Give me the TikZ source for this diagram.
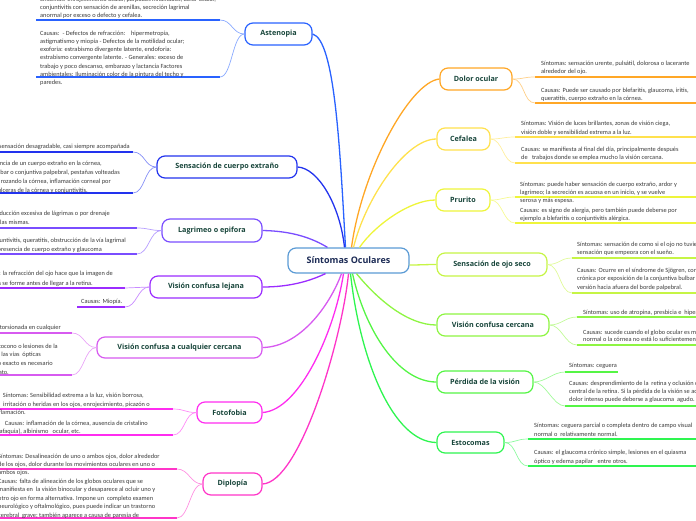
\documentclass[tikz,border=0pt]{standalone}
\usepackage{fontspec}
\setmainfont{Carlito}
\newfontfamily\hdfont{Open Sans}
\definecolor{txt}{HTML}{3A3A3A}
\definecolor{hd}{HTML}{17453A}
\definecolor{cnv}{HTML}{1C2B55}
\definecolor{cen}{HTML}{5B9BD5}
\definecolor{cast}{HTML}{2962FF}
\definecolor{csce}{HTML}{2233EE}
\definecolor{clag}{HTML}{7A4DFF}
\definecolor{cvcl}{HTML}{9B2CFF}
\definecolor{cvcc}{HTML}{D75AF0}
\definecolor{cfot}{HTML}{FF2CF0}
\definecolor{cdip}{HTML}{FF35C8}
\definecolor{cdol}{HTML}{FFA726}
\definecolor{ccef}{HTML}{FFE14D}
\definecolor{cpru}{HTML}{EEF53A}
\definecolor{cojo}{HTML}{C6F545}
\definecolor{cvcz}{HTML}{8EF542}
\definecolor{cper}{HTML}{55F545}
\definecolor{cest}{HTML}{2EF550}
\tikzset{
  topic/.style={draw=#1, line width=1.2pt, rounded corners=8pt, inner sep=0pt,
    font=\hdfont\bfseries\fontsize{7.2}{8}\selectfont, text=hd, fill=white},
  lw/.style={anchor=base west, inner sep=0pt, font=\fontsize{6.35}{8}\selectfont, text=txt},
  le/.style={anchor=base east, inner sep=0pt, font=\fontsize{6.35}{8}\selectfont, text=txt},
  ul/.style={draw=#1, line width=1.8pt},
  br/.style={draw=#1, line width=1.3pt},
  lf/.style={draw=#1!55, line width=0.7pt},
}
\begin{document}
\begin{tikzpicture}[x=1pt,y=-1pt]
\useasboundingbox (0,0) rectangle (696,520);
\clip (0,0) rectangle (696,520);
% ---------- topic nodes
\node[topic=cen, minimum width=121pt, minimum height=25pt, font=\hdfont\bfseries\fontsize{9}{10}\selectfont, text=cnv] (c) at (348.5,260.5) {Síntomas Oculares};
\node[topic=cast, minimum width=67pt, minimum height=22pt] (ast) at (278.5,34) {Astenopia};
\node[topic=csce, minimum width=140pt, minimum height=22pt] (sce) at (227,167) {Sensación de cuerpo extraño};
\node[topic=clag, minimum width=100pt, minimum height=23pt] (lag) at (212,230.5) {Lagrimeo o epifora};
\node[topic=cvcl, minimum width=112pt, minimum height=22pt] (vcl) at (206,287) {Visión confusa lejana};
\node[topic=cvcc, minimum width=165pt, minimum height=21pt] (vcc) at (179.5,347.5) {Visión confusa a cualquier cercana};
\node[topic=cfot, minimum width=65pt, minimum height=21pt] (fot) at (229.5,412.5) {Fotofobia};
\node[topic=cdip, minimum width=59pt, minimum height=22pt] (dip) at (232.5,484) {Diplopía};
\node[topic=cdol, minimum width=72pt, minimum height=22pt] (dol) at (476,79) {Dolor ocular};
\node[topic=ccef, minimum width=53pt, minimum height=22pt] (cef) at (463.5,139) {Cefalea};
\node[topic=cpru, minimum width=54pt, minimum height=22pt] (pru) at (463,200) {Prurito};
\node[topic=cojo, minimum width=110pt, minimum height=23pt] (ojo) at (492,264.5) {Sensación de ojo seco};
\node[topic=cvcz, minimum width=112pt, minimum height=22pt] (vcz) at (493,325) {Visión confusa cercana};
\node[topic=cper, minimum width=96pt, minimum height=22pt] (per) at (485,382) {Pérdida de la visión};
\node[topic=cest, minimum width=67pt, minimum height=21pt] (est) at (470.5,442.5) {Estocomas};
% ---------- main branches
\draw[br=cast] (ast.east) .. controls (335,40) and (340,150) .. ([xshift=-3pt]c.north);
\draw[br=csce] (sce.east) .. controls (318,168) and (340,205) .. ([xshift=-4pt]c.north);
\draw[br=clag] (lag.east) .. controls (292,231) and (312,238) .. ([xshift=-21pt]c.north);
\draw[br=cvcl] (vcl.east) .. controls (292,287) and (312,280) .. ([xshift=-23pt]c.south);
\draw[br=cvcc] (vcc.east) .. controls (300,347) and (330,305) .. ([xshift=-7pt]c.south);
\draw[br=cfot] (fot.east) .. controls (300,410) and (335,330) .. ([xshift=-5pt]c.south);
\draw[br=cdip] (dip.east) .. controls (300,482) and (342,340) .. ([xshift=0pt]c.south);
\draw[br=cdol] (dol.west) .. controls (410,82) and (362,170) .. ([xshift=3pt]c.north);
\draw[br=ccef] (cef.west) .. controls (405,139) and (365,200) .. ([xshift=5pt]c.north);
\draw[br=cpru] (pru.west) .. controls (410,200) and (375,225) .. ([xshift=11pt]c.north);
\draw[br=cojo] ([yshift=-4.5pt]c.east) .. controls (420,265) and (425,264.5) .. (ojo.west);
\draw[br=cvcz] ([xshift=8pt]c.south) .. controls (378,300) and (408,325) .. (vcz.west);
\draw[br=cper] ([xshift=4pt]c.south) .. controls (365,330) and (398,382) .. (per.west);
\draw[br=cest] ([xshift=2pt]c.south) .. controls (360,360) and (393,442) .. (est.west);
% ---------- underline end coordinates
\coordinate (ast1) at (220,20); \coordinate (ast2) at (220,77);
\coordinate (sce1) at (133,152); \coordinate (sce2) at (133,193);
\coordinate (lag1) at (137,228); \coordinate (lag2) at (137,254);
\coordinate (vcl1) at (125,288); \coordinate (vcl2) at (125,307);
\coordinate (vcc1) at (72,333); \coordinate (vcc2) at (72,375);
\coordinate (fot1) at (173,409); \coordinate (fot2) at (173,435);
\coordinate (dip1) at (177,469); \coordinate (dip2) at (177,518);
\coordinate (dol1) at (535,77); \coordinate (dol2) at (535,103);
\coordinate (cef1) at (515,137); \coordinate (cef2) at (515,163);
\coordinate (pru1) at (515,197); \coordinate (pru2) at (515,223);
\coordinate (ojo1) at (572,258); \coordinate (ojo2) at (572,293);
\coordinate (vcz1) at (577,317); \coordinate (vcz2) at (577,345);
\coordinate (per1) at (565,372); \coordinate (per2) at (565,406);
\coordinate (est1) at (528,439); \coordinate (est2) at (528,466);
% ---------- underlines
\draw[ul=cast] (36,20) -- (ast1); \draw[ul=cast] (36,77) -- (ast2);
\draw[ul=csce] (-5,152) -- (sce1); \draw[ul=csce] (-5,193) -- (sce2);
\draw[ul=clag] (-5,228) -- (lag1); \draw[ul=clag] (-5,254) -- (lag2);
\draw[ul=cvcl] (-5,288) -- (vcl1); \draw[ul=cvcl] (77,307) -- (vcl2);
\draw[ul=cvcc] (-5,333) -- (vcc1); \draw[ul=cvcc] (-5,375) -- (vcc2);
\draw[ul=cfot] (-5,409) -- (fot1); \draw[ul=cfot] (-5,435) -- (fot2);
\draw[ul=cdip] (-5,469) -- (dip1); \draw[ul=cdip] (-5,518) -- (dip2);
\draw[ul=cdol] (dol1) -- (700,77); \draw[ul=cdol] (dol2) -- (700,103);
\draw[ul=ccef] (cef1) -- (700,137); \draw[ul=ccef] (cef2) -- (700,163);
\draw[ul=cpru] (pru1) -- (700,197); \draw[ul=cpru] (pru2) -- (700,223);
\draw[ul=cojo] (ojo1) -- (700,258); \draw[ul=cojo] (ojo2) -- (700,293);
\draw[ul=cvcz] (vcz1) -- (700,317); \draw[ul=cvcz] (vcz2) -- (700,345);
\draw[ul=cper] (per1) -- (618,372); \draw[ul=cper] (per2) -- (700,406);
\draw[ul=cest] (est1) -- (700,439); \draw[ul=cest] (est2) -- (700,466);
% ---------- leaf connectors
\foreach \n/\cl in {ast/cast,sce/csce,lag/clag,vcl/cvcl,vcc/cvcc,fot/cfot,dip/cdip}{
  \draw[lf=\cl] (\n.west) .. controls +(-12,0) and +(12,0) .. (\n1);
  \draw[lf=\cl] (\n.west) .. controls +(-12,0) and +(12,0) .. (\n2);
}
\foreach \n/\cl in {dol/cdol,cef/ccef,pru/cpru,ojo/cojo,vcz/cvcz,per/cper,est/cest}{
  \draw[lf=\cl] (\n.east) .. controls +(12,0) and +(-12,0) .. (\n1);
  \draw[lf=\cl] (\n.east) .. controls +(12,0) and +(-12,0) .. (\n2);
}
% ---------- leaf texts: Astenopia
\node[lw] (a0) at (40,1) {Síntomas: enrojecimiento ocular, párpados inflamados, dolor ocular,};
\node[lw] (a1) at (40,9) {conjuntivitis con sensación de arenillas, secreción lagrimal};
\node[lw] (a2) at (40,17) {anormal por exceso o defecto y cefalea.};
\node[lw] (a3) at (40,35) {Causas:\ \ - Defectos de refracción:\ \ \ \ hipermetropía,};
\node[lw] (a4) at (40,43.3) {astigmatismo y miopía - Defectos de la motilidad ocular;};
\node[lw] (a5) at (40,51.6) {exoforia: estrabismo divergente latente, endoforia:};
\node[lw] (a6) at (40,59.9) {estrabismo convergente latente. - Generales: exceso de};
\node[lw] (a7) at (40,68.2) {trabajo y poco descanso, embarazo y lactancia Factores};
\node[lw] (a8) at (40,76.5) {ambientales: Iluminación color de la pintura del techo y};
\node[lw] (a9) at (40,84.8) {paredes.};
% Sensación de cuerpo extraño
\node[le] (s1) at (130,148) {Síntomas: sensación desagradable, casi siempre acompañada};
\node[le] (s2) at (102,165) {Causas: presencia de un cuerpo extraño en la córnea,};
\node[le] (s3) at (120,174) {conjuntiva bulbar o conjuntiva palpebral, pestañas volteadas};
\node[le] (s4) at (111,183) {hacia adentro rozando la córnea, inflamación corneal por};
\node[le] (s5) at (88,192) {úlceras de la córnea y conjuntivitis.};
% Lagrimeo
\node[le] (l1) at (110,215) {Síntomas: producción excesiva de lágrimas o por drenaje};
\node[le] (l2) at (30,224) {deficiente de las mismas.};
\node[le] (l3) at (126,242) {Causas: conjuntivitis, queratitis, obstrucción de la vía lagrimal};
\node[le] (l4) at (102,251) {presencia de cuerpo extraño y glaucoma};
% Visión confusa lejana
\node[le] (v1) at (113,275) {Síntomas: la refracción del ojo hace que la imagen de};
\node[le] (v2) at (93,285) {los objetos se forme antes de llegar a la retina.};
\node[lw] (v3) at (81,303) {Causas: Miopía.};
% Visión confusa a cualquier cercana
\node[le] (w1) at (61,329) {Síntomas: visión distorsionada en cualquier};
\node[le] (w2) at (58,348) {Causas: astigmatismo, queratocono o lesiones de la};
\node[le] (w3) at (41,356) {córnea o de las vías\ \ ópticas};
\node[le] (w4) at (53,365) {para un diagnóstico exacto es necesario};
\node[le] (w5) at (9,374) {tratamiento inmediato.};
% Fotofobia
\node[le] (f1) at (144,397) {Síntomas: Sensibilidad extrema a la luz, visión borrosa,};
\node[le] (f2) at (150,406) {irritación o heridas en los ojos, enrojecimiento, picazón o};
\node[le] (f3) at (26,414) {inflamación.};
\node[le] (f4) at (148,425) {Causas: inflamación de la córnea, ausencia de cristalino};
\node[le] (f5) at (81,433) {(afaquia), albinismo\ \ \ ocular, etc.};
% Diplopía
\node[lw] (d1) at (-2,458) {Síntomas: Desalineación de uno o ambos ojos, dolor alrededor};
\node[lw] (d2) at (-2,466.3) {de los ojos, dolor durante los movimientos oculares en uno o};
\node[lw] (d3) at (-2,474.6) {ambos ojos.};
\node[lw] (d4) at (-2,483) {Causas: falta de alineación de los globos oculares que se};
\node[lw] (d5) at (-2,491.5) {manifiesta en\ \ la visión binocular y desaparece al ocluir uno y};
\node[lw] (d6) at (-2,500) {otro ojo en forma alternativa. Impone un\ \ completo examen};
\node[lw] (d7) at (-2,508.5) {neurológico y oftalmológico, pues puede indicar un trastorno};
\node[lw] (d8) at (-2,517) {cerebral\ \ grave; también aparece a causa de paresia de};
% Dolor ocular
\node[lw] (o1) at (541,65) {Síntomas: sensación urente, pulsátil, dolorosa o lacerante};
\node[lw] (o2) at (541,73) {alrededor del ojo.};
\node[lw] (o3) at (541,92) {Causas: Puede ser causado por blefaritis, glaucoma, iritis,};
\node[lw] (o4) at (541,100) {queratitis, cuerpo extraño en la córnea.};
% Cefalea
\node[lw] (e1) at (521,125) {Síntomas: Visión de luces brillantes, zonas de visión ciega,};
\node[lw] (e2) at (521,134) {visión doble y sensibilidad extrema a la luz.};
\node[lw] (e3) at (521,151) {Causas: se manifiesta al final del día, principalmente después};
\node[lw] (e4) at (521,159) {de\ \ \ trabajos donde se emplea mucho la visión cercana.};
% Prurito
\node[lw] (p1) at (520,186) {Síntomas: puede haber sensación de cuerpo extraño, ardor y};
\node[lw] (p2) at (520,194) {lagrimeo; la secreción es acuosa en un inicio, y se vuelve};
\node[lw] (p3) at (520,202.5) {serosa y más espesa.};
\node[lw] (p4) at (520,212) {Causas: es signo de alergia, pero también puede deberse por};
\node[lw] (p5) at (520,220) {ejemplo a blefaritis o conjuntivitis alérgica.};
% Sensación de ojo seco
\node[lw] (j1) at (577,246) {Síntomas: sensación de como si el ojo no tuviera lágrimas,};
\node[lw] (j2) at (577,254) {sensación que empeora con el sueño.};
\node[lw] (j3) at (577,272) {Causas: Ocurre en el síndrome de Sjögren, conjuntivitis};
\node[lw] (j4) at (577,280.5) {crónica por exposición de la conjuntiva bulbar o por};
\node[lw] (j5) at (577,289) {versión hacia afuera del borde palpebral.};
% Visión confusa cercana
\node[lw] (z1) at (583,314) {Síntomas: uso de atropina, presbicia e\ \ hipermetropía.};
\node[lw] (z2) at (583,334) {Causas: sucede cuando el globo ocular es más corto de lo};
\node[lw] (z3) at (583,341.5) {normal o la córnea no está lo suficientemente curvada.};
% Pérdida de la visión
\node[lw] (r1) at (569,367) {Síntomas: ceguera};
\node[lw] (r2) at (569,385) {Causas: desprendimiento de la\ \ retina y oclusión de la arteria};
\node[lw] (r3) at (569,393) {central de la retina. Si la pérdida de la visión se acompaña de};
\node[lw] (r4) at (569,401) {dolor intenso puede deberse a glaucoma\ \ agudo.};
% Estocomas
\node[lw] (t1) at (534,427) {Síntomas: ceguera parcial o completa dentro de campo visual};
\node[lw] (t2) at (534,436) {normal o\ \ relativamente normal.};
\node[lw] (t3) at (534,454) {Causas: el glaucoma crónico simple, lesiones en el quiasma};
\node[lw] (t4) at (534,463) {óptico y edema papilar\ \ \ entre otros.};
\end{tikzpicture}
\end{document}
